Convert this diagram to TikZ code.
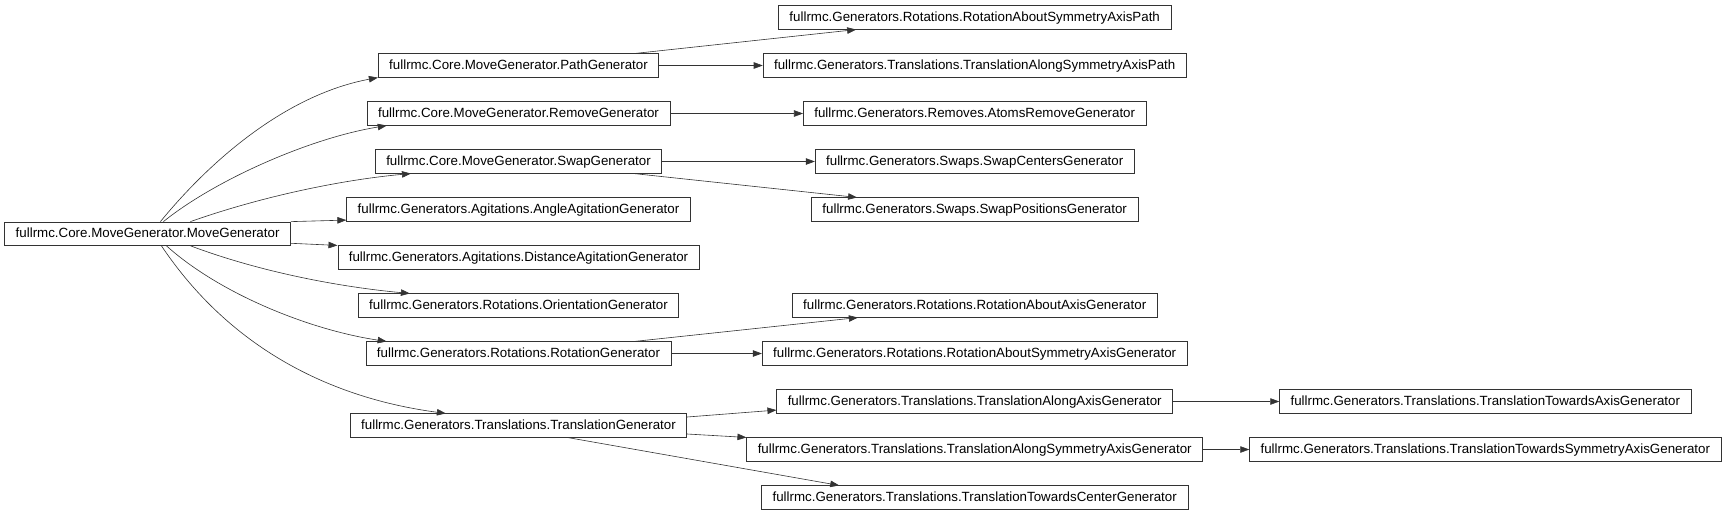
\documentclass[tikz,border=0pt]{standalone}
\usepackage{fontspec}
\setmainfont{Liberation Sans}
\usetikzlibrary{arrows.meta,calc}
\begin{document}
\begin{tikzpicture}[x=1pt,y=-1pt,
  cls/.style={draw=black!80,line width=0.65pt,rectangle,inner xsep=11pt,inner ysep=0pt,
    minimum height=23.5pt,text height=9.6pt,text depth=2.6pt,
    font=\fontsize{13.33}{16}\selectfont},
  arr/.style={draw=black!80,line width=0.6pt,-{Triangle[length=9pt,width=6.5pt]}}]
\useasboundingbox (0,0) rectangle (1727,515);
% column 1
\node[cls] (mg) at (147.6,233.7) {fullrmc.Core.MoveGenerator.MoveGenerator};
% column 2
\node[cls] (path) at (518.5,65.5) {fullrmc.Core.MoveGenerator.PathGenerator};
\node[cls] (remove) at (518.5,113.5) {fullrmc.Core.MoveGenerator.RemoveGenerator};
\node[cls] (swap) at (518.5,161.5) {fullrmc.Core.MoveGenerator.SwapGenerator};
\node[cls] (angle) at (518.5,209.5) {fullrmc.Generators.Agitations.AngleAgitationGenerator};
\node[cls] (dist) at (518.5,257.5) {fullrmc.Generators.Agitations.DistanceAgitationGenerator};
\node[cls] (orient) at (518.5,305.5) {fullrmc.Generators.Rotations.OrientationGenerator};
\node[cls] (rot) at (518.5,353.5) {fullrmc.Generators.Rotations.RotationGenerator};
\node[cls] (trans) at (518.5,425.5) {fullrmc.Generators.Translations.TranslationGenerator};
% column 3
\node[cls] (rasap) at (974.7,17.5) {fullrmc.Generators.Rotations.RotationAboutSymmetryAxisPath};
\node[cls] (tasap) at (974.7,65.5) {fullrmc.Generators.Translations.TranslationAlongSymmetryAxisPath};
\node[cls] (atoms) at (974.7,113.5) {fullrmc.Generators.Removes.AtomsRemoveGenerator};
\node[cls] (swc) at (974.7,161.5) {fullrmc.Generators.Swaps.SwapCentersGenerator};
\node[cls] (swp) at (974.7,209.5) {fullrmc.Generators.Swaps.SwapPositionsGenerator};
\node[cls] (raa) at (974.7,305.5) {fullrmc.Generators.Rotations.RotationAboutAxisGenerator};
\node[cls] (rasag) at (974.7,353.5) {fullrmc.Generators.Rotations.RotationAboutSymmetryAxisGenerator};
\node[cls] (taag) at (974.7,401.5) {fullrmc.Generators.Translations.TranslationAlongAxisGenerator};
\node[cls] (tasag) at (974.7,449.5) {fullrmc.Generators.Translations.TranslationAlongSymmetryAxisGenerator};
\node[cls] (ttcg) at (974.7,497.5) {fullrmc.Generators.Translations.TranslationTowardsCenterGenerator};
% column 4
\node[cls] (ttag) at (1485.3,401.5) {fullrmc.Generators.Translations.TranslationTowardsAxisGenerator};
\node[cls] (ttsag) at (1485.3,449.5) {fullrmc.Generators.Translations.TranslationTowardsSymmetryAxisGenerator};
% edges from MoveGenerator
\draw[arr] ($(mg.north west)+(156,0)$) .. controls (215,155) and (290,94) .. (path.south west);
\draw[arr] ($(mg.north west)+(159,0)$) .. controls (215,180) and (310,138) .. ($(remove.south west)+(20,0)$);
\draw[arr] ($(mg.north west)+(186,0)$) .. controls (260,197) and (340,180) .. ($(swap.south west)+(36,0)$);
\draw[arr] (mg.north east) -- ($(angle.south west)+(0,-1.5)$);
\draw[arr] ($(mg.south east)+(0,-2.5)$) -- (dist.north west);
\draw[arr] ($(mg.south west)+(186,0)$) .. controls (260,272) and (340,287) .. ($(orient.north west)+(52,0)$);
\draw[arr] ($(mg.south west)+(162,0)$) .. controls (220,294) and (310,330) .. ($(rot.north west)+(21,0)$);
\draw[arr] ($(mg.south west)+(157,0)$) .. controls (230,348) and (330,398) .. ($(trans.north west)+(96,0)$);
% column 2 -> 3
\draw[arr] ($(path.north east)+(-24,0)$) -- ($(rasap.south west)+(78,0)$);
\draw[arr] (path.east) -- (tasap.west);
\draw[arr] (remove.east) -- (atoms.west);
\draw[arr] (swap.east) -- (swc.west);
\draw[arr] ($(swap.south east)+(-28,0)$) -- ($(swp.north west)+(46,0)$);
\draw[arr] ($(rot.north east)+(-37,0)$) -- ($(raa.south west)+(66,0)$);
\draw[arr] (rot.east) -- (rasag.west);
\draw[arr] ($(trans.east)+(0,-8.5)$) -- ($(taag.south west)+(0,-3.5)$);
\draw[arr] ($(trans.east)+(0,8.5)$) -- (tasag.north west);
\draw[arr] ($(trans.south west)+(218,0)$) -- ($(ttcg.north west)+(78,0)$);
% column 3 -> 4
\draw[arr] (taag.east) -- (ttag.west);
\draw[arr] (tasag.east) -- (ttsag.west);
\end{tikzpicture}
\end{document}
